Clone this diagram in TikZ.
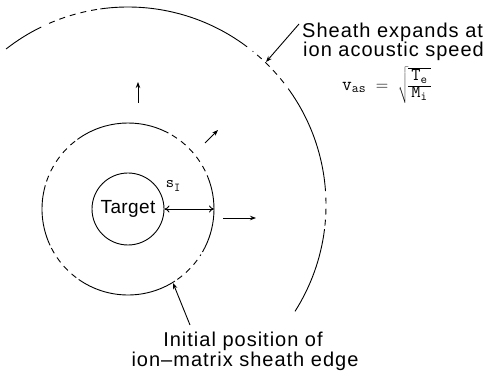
\documentclass[tikz,border=0pt]{standalone}
\usepackage{fontspec}
\setmainfont{Liberation Sans}[LetterSpace=5]
\usetikzlibrary{arrows.meta}
\tikzset{
  ln/.style={line width=0.9pt},
  dsh/.style={line width=0.9pt, dash pattern=on 6pt off 5pt},
  arr/.style={line width=0.9pt, -{Stealth[length=6pt,width=4.5pt]}},
  lbl/.style={font=\fontsize{20}{19}\selectfont, inner sep=0pt},
}
\begin{document}
\begin{tikzpicture}[x=1pt,y=1pt]
\useasboundingbox (0,0) rectangle (488,378);
\coordinate (M) at (128,169);
\coordinate (O) at (128,173);
% target
\node[circle, draw, ln, minimum size=72pt, inner sep=0pt] (target) at (M) {};
\node[font=\fontsize{19}{19}\selectfont\addfontfeatures{LetterSpace=2}, inner sep=0pt] (tlabel) at (M) {Target};
% middle circle (initial sheath edge)
\draw[ln] (M) ++(62:86) arc[start angle=62, end angle=126, radius=86];
\draw[ln] (M) ++(164:86) arc[start angle=164, end angle=205, radius=86];
\draw[ln] (M) ++(235:86) arc[start angle=235, end angle=303, radius=86];
\draw[ln] (M) ++(330:86) arc[start angle=330, end angle=383, radius=86];
\draw[dsh] (M) ++(128:86) arc[start angle=128, end angle=162, radius=86];
\draw[dsh] (M) ++(207:86) arc[start angle=207, end angle=233, radius=86];
\draw[dsh] (M) ++(305:86) arc[start angle=305, end angle=328, radius=86];
\draw[dsh] (M) ++(26:86) arc[start angle=26, end angle=60, radius=86];
% outer circle (expanding sheath)
\draw[ln] (O) ++(116:198) arc[start angle=116, end angle=128, radius=198];
\draw[ln] (O) ++(53:198) arc[start angle=53, end angle=98, radius=198];
\draw[ln] (O) ++(4:198) arc[start angle=4, end angle=36, radius=198];
\draw[ln] (O) ++(-32.5:198) arc[start angle=-32.5, end angle=-7, radius=198];
\draw[dsh] (O) ++(99:198) arc[start angle=99, end angle=114, radius=198];
\draw[dsh] (O) ++(38:198) arc[start angle=38, end angle=51, radius=198];
\draw[dsh] (O) ++(-6:198) arc[start angle=-6, end angle=3, radius=198];
% expansion arrows
\coordinate (u1) at (138,275); \coordinate (u2) at (138,296);
\coordinate (d1) at (205,235); \coordinate (d2) at (218,248);
\coordinate (r1) at (223,160); \coordinate (r2) at (256,160);
\draw[arr] (u1) -- (u2);
\draw[arr] (d1) -- (d2);
\draw[arr] (r1) -- (r2);
% s_I
\coordinate (se) at (214,169);
\draw[ln, {To[length=5pt,width=7pt]}-{To[length=5pt,width=7pt]}] (target.east) -- (se);
\node[inner sep=0pt, font=\fontsize{16}{16}\selectfont] (sI) at (173,192) {\texttt{s}\raisebox{-4pt}{\texttt{\fontsize{12}{12}\selectfont I}}};
% labels
\node[lbl, anchor=base west] (sheath) at (302,340) {Sheath expands at};
\node[lbl, anchor=base west] (sheath2) at (303,321) {ion acoustic speed};
\coordinate (sh1) at (299,354);
\coordinate (sh2) at (266,316);
\draw[arr] (sh1) -- (sh2);
\node[inner sep=0pt, anchor=north west] (form) at (342,311) {\fontsize{19}{19}\selectfont$\mathtt{v_{as}}\;=\;\sqrt{\hbox{\fontsize{18}{15}\selectfont\renewcommand{\arraystretch}{1}\begin{tabular}{@{\hspace{3pt}}c@{\hspace{3pt}}}\texttt{T}\textsubscript{\texttt{e}}\\[1pt]\hline\texttt{M}\textsubscript{\texttt{i}}\end{tabular}}}$};
\node[lbl, anchor=base] (init) at (243,31) {Initial position of};
\node[lbl, anchor=base] (init2) at (245,11) {ion–matrix sheath edge};
\coordinate (i1) at (190,53);
\coordinate (i2) at (173,95);
\draw[arr] (i1) -- (i2);
\end{tikzpicture}
\end{document}
